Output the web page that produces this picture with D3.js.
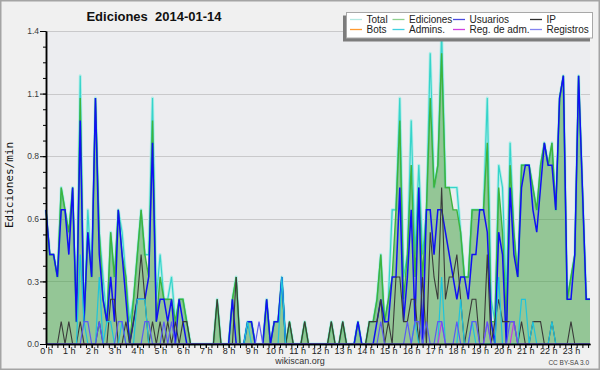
<!DOCTYPE html>
<html>
<head>
<meta charset="utf-8">
<script src="https://cdn.jsdelivr.net/npm/d3@7/dist/d3.min.js"></script>
<style>
  html, body { margin: 0; padding: 0; background: #f0f0f0; }
  svg { display: block; font-family: "Liberation Sans", Arial, sans-serif; }
</style>
</head>
<body>
<svg id="chart" width="600" height="370"></svg>
<script>
// ediciones/min, un valor cada 10 minutos (una fila = una hora)
const hours = d3.range(24)
const yTicks = [0, 0.28, 0.56, 0.84, 1.12, 1.4]

const total = [
  0.6, 0.4, 0.4, 0.3, 0.7, 0.6,
  0.5, 0.7, 0.1, 1.2, 0.1, 0.6,
  0.3, 1.1, 0.5, 0.3, 0.1, 0.5,
  0.3, 0.6, 0.5, 0.3, 0.1, 0.2,
  0.4, 0.6, 0.4, 0.4, 1.1, 0.2,
  0.4, 0.2, 0.2, 0.3, 0.1, 0.2,
  0.2, 0.1, 0, 0, 0, 0,
  0, 0, 0, 0.2, 0, 0,
  0, 0.2, 0.3, 0, 0, 0.1,
  0.1, 0, 0, 0, 0.2, 0,
  0.1, 0.1, 0.3, 0, 0.1, 0,
  0, 0, 0.1, 0, 0, 0,
  0, 0, 0, 0.1, 0, 0,
  0.1, 0, 0, 0, 0.1, 0,
  0, 0.1, 0.1, 0.2, 0.4, 0.1,
  0.2, 0.6, 0.6, 1.1, 0.3, 0.4,
  1.0, 0.4, 0.8, 0.4, 0.6, 1.3,
  0.7, 0.8, 1.4, 0.7, 0.7, 0.7,
  0.7, 0.5, 0.3, 0.3, 0.6, 0.6,
  0.6, 0.6, 1.1, 0.2, 0.1, 0.8,
  0.7, 0.2, 0.9, 0.5, 0.3, 0.8,
  0.8, 0.8, 0.7, 0.6, 0.8, 0.9,
  0.8, 0.9, 0.6, 1.1, 1.2, 0.2,
  0.3, 0.4, 1.2, 0.7, 0.2, 0.2
]

const ediciones = [
  0.6, 0.4, 0.4, 0.3, 0.7, 0.6,
  0.5, 0.7, 0.1, 1.1, 0.1, 0.5,
  0.3, 1.1, 0.5, 0.2, 0.1, 0.5,
  0.3, 0.6, 0.4, 0.3, 0, 0.2,
  0.4, 0.6, 0.4, 0.3, 1.0, 0.1,
  0.3, 0.2, 0.2, 0.2, 0.1, 0.2,
  0.2, 0.1, 0, 0, 0, 0,
  0, 0, 0, 0.2, 0, 0,
  0, 0.2, 0.3, 0, 0, 0.1,
  0.1, 0, 0, 0, 0.2, 0,
  0.1, 0.1, 0.3, 0, 0.1, 0,
  0, 0, 0.1, 0, 0, 0,
  0, 0, 0, 0.1, 0, 0,
  0.1, 0, 0, 0, 0.1, 0,
  0, 0.1, 0.1, 0.2, 0.4, 0.1,
  0.2, 0.3, 0.6, 1.0, 0.2, 0.4,
  0.8, 0.3, 0.7, 0.3, 0.6, 1.1,
  0.7, 0.8, 1.3, 0.7, 0.7, 0.6,
  0.6, 0.5, 0.3, 0.3, 0.6, 0.6,
  0.6, 0.6, 0.9, 0.1, 0.1, 0.7,
  0.5, 0.1, 0.8, 0.5, 0.3, 0.8,
  0.8, 0.8, 0.7, 0.6, 0.8, 0.9,
  0.8, 0.9, 0.6, 1.1, 1.2, 0.2,
  0.3, 0.4, 1.2, 0.7, 0.2, 0.2
]

const usuarios = [
  0.6, 0.4, 0.4, 0.3, 0.6, 0.6,
  0.4, 0.7, 0.1, 1.0, 0.1, 0.5,
  0.3, 1.1, 0.4, 0.2, 0.1, 0.3,
  0.1, 0.6, 0.4, 0.2, 0, 0.1,
  0.2, 0.2, 0.2, 0.3, 0.9, 0.1,
  0.2, 0.2, 0.1, 0.2, 0, 0.2,
  0.1, 0, 0, 0, 0, 0,
  0, 0, 0, 0, 0, 0,
  0, 0.2, 0, 0, 0, 0.1,
  0.1, 0, 0, 0, 0.2, 0,
  0.1, 0.1, 0.3, 0, 0, 0,
  0, 0, 0, 0, 0, 0,
  0, 0, 0, 0, 0, 0,
  0, 0, 0, 0, 0.1, 0,
  0, 0, 0, 0.1, 0.2, 0.1,
  0.1, 0.3, 0.3, 0.7, 0.1, 0.3,
  0.6, 0.1, 0.7, 0, 0.6, 0.6,
  0.4, 0.6, 0.6, 0.5, 0.4, 0.3,
  0.2, 0.3, 0.3, 0.2, 0.4, 0.4,
  0.6, 0.6, 0.5, 0.1, 0, 0.5,
  0.4, 0, 0.7, 0.4, 0.3, 0.7,
  0.8, 0.8, 0.6, 0.5, 0.7, 0.9,
  0.8, 0.8, 0.6, 1.1, 1.2, 0.2,
  0.2, 0.4, 1.2, 0.7, 0.2, 0.2
]

const ip = [
  0, 0, 0, 0, 0.1, 0,
  0.1, 0, 0, 0.1, 0, 0,
  0, 0, 0.1, 0, 0, 0.2,
  0.2, 0, 0, 0.1, 0, 0.1,
  0.2, 0.4, 0.2, 0, 0.1, 0,
  0.1, 0, 0.1, 0, 0.1, 0,
  0.1, 0.1, 0, 0, 0, 0,
  0, 0, 0, 0.2, 0, 0,
  0, 0, 0.3, 0, 0, 0,
  0, 0, 0, 0, 0, 0,
  0, 0, 0, 0, 0.1, 0,
  0, 0, 0.1, 0, 0, 0,
  0, 0, 0, 0.1, 0, 0,
  0.1, 0, 0, 0, 0, 0,
  0, 0.1, 0.1, 0.1, 0.2, 0,
  0.1, 0, 0.3, 0.3, 0.1, 0.1,
  0.2, 0.2, 0, 0.3, 0, 0.5,
  0.3, 0.2, 0.7, 0.2, 0.3, 0.3,
  0.4, 0.2, 0, 0.1, 0.2, 0.2,
  0, 0, 0.4, 0, 0.1, 0.2,
  0.1, 0.1, 0.1, 0.1, 0, 0.1,
  0, 0, 0.1, 0.1, 0.1, 0,
  0, 0.1, 0, 0, 0, 0,
  0.1, 0, 0, 0, 0, 0
]

const admins = [
  0, 0, 0, 0, 0, 0,
  0, 0, 0, 0.4, 0.1, 0,
  0, 0, 0.3, 0, 0.1, 0.1,
  0, 0, 0.1, 0, 0, 0,
  0.2, 0.2, 0.2, 0, 0, 0,
  0, 0, 0, 0, 0, 0,
  0, 0, 0, 0, 0, 0,
  0, 0, 0, 0, 0, 0,
  0, 0, 0, 0, 0, 0.1,
  0, 0, 0, 0, 0, 0,
  0, 0, 0.3, 0, 0, 0,
  0, 0, 0, 0, 0, 0,
  0, 0, 0, 0, 0, 0,
  0, 0, 0, 0, 0, 0,
  0, 0, 0, 0, 0, 0,
  0, 0, 0, 0, 0, 0,
  0, 0.1, 0, 0, 0, 0,
  0, 0, 0.3, 0, 0, 0,
  0, 0.2, 0, 0, 0.1, 0,
  0, 0, 0, 0, 0, 0.3,
  0, 0, 0, 0, 0, 0.2,
  0.2, 0, 0.1, 0, 0, 0,
  0, 0.1, 0, 0, 0, 0,
  0, 0, 0, 0, 0, 0
]

const regAdm = [
  0, 0, 0, 0, 0, 0,
  0, 0, 0, 0, 0, 0,
  0, 0, 0, 0, 0, 0,
  0, 0, 0, 0, 0, 0,
  0, 0, 0, 0, 0, 0,
  0, 0, 0, 0, 0, 0,
  0, 0, 0, 0, 0, 0,
  0, 0, 0, 0, 0, 0,
  0, 0, 0, 0, 0, 0,
  0, 0, 0, 0, 0, 0,
  0, 0, 0, 0, 0, 0,
  0, 0, 0, 0, 0, 0,
  0, 0, 0, 0, 0, 0,
  0, 0, 0, 0, 0, 0,
  0, 0, 0, 0, 0, 0,
  0, 0, 0, 0, 0, 0,
  0, 0, 0, 0, 0, 0,
  0, 0, 0.1, 0, 0, 0,
  0, 0, 0, 0, 0, 0,
  0, 0, 0.1, 0, 0, 0,
  0, 0, 0, 0.1, 0, 0,
  0, 0, 0, 0, 0, 0,
  0, 0, 0, 0, 0, 0,
  0, 0, 0, 0, 0, 0
]

const registros = [
  0, 0, 0, 0, 0, 0,
  0, 0, 0, 0, 0.1, 0.1,
  0, 0, 0.1, 0, 0, 0,
  0, 0.1, 0.1, 0, 0, 0,
  0, 0, 0.1, 0.1, 0, 0,
  0, 0.1, 0, 0.1, 0, 0,
  0, 0, 0, 0, 0, 0,
  0, 0, 0, 0, 0, 0,
  0, 0, 0, 0, 0, 0,
  0, 0, 0.1, 0, 0, 0,
  0, 0, 0, 0, 0, 0,
  0, 0, 0, 0, 0, 0,
  0, 0, 0, 0, 0, 0,
  0, 0, 0, 0, 0, 0,
  0, 0, 0, 0, 0.1, 0,
  0, 0, 0, 0, 0, 0.1,
  0, 0.1, 0.1, 0, 0.1, 0,
  0, 0.1, 0.1, 0, 0, 0,
  0.1, 0, 0, 0, 0.1, 0.1,
  0, 0, 0.1, 0, 0, 0,
  0, 0, 0.1, 0.1, 0, 0,
  0, 0, 0, 0, 0, 0,
  0, 0, 0, 0, 0, 0,
  0, 0, 0, 0, 0, 0
]

const legendNames = ['Total', 'Ediciones', 'Usuarios', 'IP', 'Bots', 'Admins.', 'Reg. de adm.', 'Registros']
const legendColors = ['#b4e8e2', '#8fd08f', '#4a4ae0', '#303030', '#ff9a30', '#40d0e0', '#d040e0', '#8484f0']

const width = 600
const height = 370
const margin = { left: 46, right: 590, top: 31, bottom: 344 }

const svg = d3.select('#chart')

// marco
svg.append('rect')
  .attr('x', 0.75).attr('y', 0.75)
  .attr('width', width - 1.5).attr('height', height - 1.5)
  .attr('fill', '#f0f0f0')
  .attr('stroke', '#a4a4a4')
  .attr('stroke-width', 1.5)

// fondo del área de datos
svg.append('rect')
  .attr('x', margin.left).attr('y', margin.top)
  .attr('width', margin.right - margin.left)
  .attr('height', margin.bottom - margin.top)
  .attr('fill', '#ecedf0')

const x = d3.scaleLinear().domain([0, total.length - 1]).range([margin.left, margin.right])
const xHour = d3.scaleLinear().domain([0, (total.length - 1) / 6]).range([margin.left, margin.right])
const y = d3.scaleLinear().domain([0, 1.4]).range([margin.bottom, margin.top])

// rejilla
svg.append('g')
  .selectAll('line')
  .data(yTicks.slice(1))
  .enter()
  .append('line')
  .attr('x1', margin.left).attr('x2', margin.right)
  .attr('y1', d => Math.round(y(d)) + 0.5).attr('y2', d => Math.round(y(d)) + 0.5)
  .attr('stroke', '#c9c9cb')

const plot = svg.append('g')

const line = d3.line().x((d, i) => x(i)).y(d => y(d))
const area = d3.area().x((d, i) => x(i)).y0(y(0)).y1(d => y(d))

// Total: halo claro + línea turquesa
plot.append('path').datum(total).attr('d', line)
  .attr('fill', 'none').attr('stroke', '#b2ede8').attr('stroke-width', 3)
  .attr('stroke-linejoin', 'round')
plot.append('path').datum(total).attr('d', line)
  .attr('fill', 'none').attr('stroke', '#36d4ca').attr('stroke-width', 1.2)

// Ediciones: área verde
plot.append('path').datum(ediciones).attr('d', area)
  .attr('fill', 'rgb(60,160,60)').attr('fill-opacity', 0.5)
plot.append('path').datum(ediciones).attr('d', line)
  .attr('fill', 'none').attr('stroke', '#3db43d').attr('stroke-width', 1.4)

const lines = [
  { values: usuarios, color: '#1010f4', w: 1.5 },
  { values: ip, color: '#3a3a3a', w: 1.1 },
  { values: admins, color: '#1ec4dc', w: 1.2 },
  { values: regAdm, color: '#c040e0', w: 1.2 },
  { values: registros, color: '#5a5af4', w: 1.2 }
]

plot.selectAll('.serie')
  .data(lines)
  .enter()
  .append('path')
  .attr('class', 'serie')
  .attr('d', d => line(d.values))
  .attr('fill', 'none')
  .attr('stroke', d => d.color)
  .attr('stroke-width', d => d.w)

// ejes
const yAxis = svg.append('g').attr('transform', `translate(${margin.left},0)`)
  .call(d3.axisLeft(y).tickValues(yTicks).tickFormat(d3.format('.1f')).tickSize(6).tickPadding(1).tickSizeOuter(0))
const yMinor = svg.append('g').attr('transform', `translate(${margin.left},0)`)
  .call(d3.axisLeft(y).tickValues(d3.range(0, 1.4001, 0.07)).tickFormat('').tickSize(3).tickSizeOuter(0))

const xAxis = svg.append('g').attr('transform', `translate(0,${margin.bottom})`)
  .call(d3.axisBottom(xHour).tickValues(hours).tickFormat(d => d + ' h').tickSize(4).tickPadding(0).tickSizeOuter(0))
const xMinor = svg.append('g').attr('transform', `translate(0,${margin.bottom})`)
  .call(d3.axisBottom(xHour).tickValues(d3.range(0, 23.84, 0.25)).tickFormat('').tickSize(4).tickSizeOuter(0))

svg.selectAll('.domain').attr('stroke', '#000').attr('stroke-width', 1.5)
svg.selectAll('.tick line').attr('stroke', '#000')
yAxis.selectAll('text').attr('font-size', 8.5).attr('fill', '#3a3a3a').attr('font-family', '"Liberation Sans", sans-serif')
xAxis.selectAll('text').attr('font-size', 9).attr('fill', '#222').attr('font-family', '"Liberation Sans", sans-serif')

// textos
svg.append('text')
  .attr('x', 154).attr('y', 21)
  .attr('text-anchor', 'middle')
  .attr('font-size', 13).attr('font-weight', 'bold').attr('fill', '#111')
  .text('Ediciones\u00a0\u00a02014-01-14')

svg.append('text')
  .attr('transform', 'translate(13,185) rotate(-90)')
  .attr('text-anchor', 'middle')
  .attr('font-family', '"DejaVu Sans Mono", monospace')
  .attr('font-size', 11).attr('fill', '#111')
  .text('Ediciones/min')

svg.append('text')
  .attr('x', 300).attr('y', 364)
  .attr('text-anchor', 'middle')
  .attr('font-size', 9).attr('fill', '#333')
  .text('wikiscan.org')

svg.append('text')
  .attr('x', 589).attr('y', 365)
  .attr('text-anchor', 'end')
  .attr('font-size', 6.5).attr('fill', '#444')
  .text('CC BY-SA 3.0')

// leyenda
const legend = svg.append('g')
legend.append('rect')
  .attr('x', 343).attr('y', 15.5).attr('width', 247).attr('height', 26)
  .attr('fill', '#7c7c7c')
legend.append('rect')
  .attr('x', 346.5).attr('y', 12.5).attr('width', 246).attr('height', 25.5)
  .attr('fill', '#fff').attr('stroke', '#a8a8a8')

const colX = [350, 392.5, 453, 530]
legend.selectAll('.item')
  .data(legendNames)
  .enter()
  .append('g')
  .attr('class', 'item')
  .attr('transform', (d, i) => `translate(${colX[i % 4]},${i < 4 ? 19 : 29})`)
  .each(function (d, i) {
    const el = d3.select(this)
    el.append('line')
      .attr('x1', 0).attr('x2', 12).attr('y1', 0.5).attr('y2', 0.5)
      .attr('stroke', legendColors[i]).attr('stroke-width', 1.3)
    el.append('text')
      .attr('x', 16.5).attr('y', 3.7)
      .attr('font-size', 10).attr('fill', '#222')
      .text(d)
  })
</script>
</body>
</html>
